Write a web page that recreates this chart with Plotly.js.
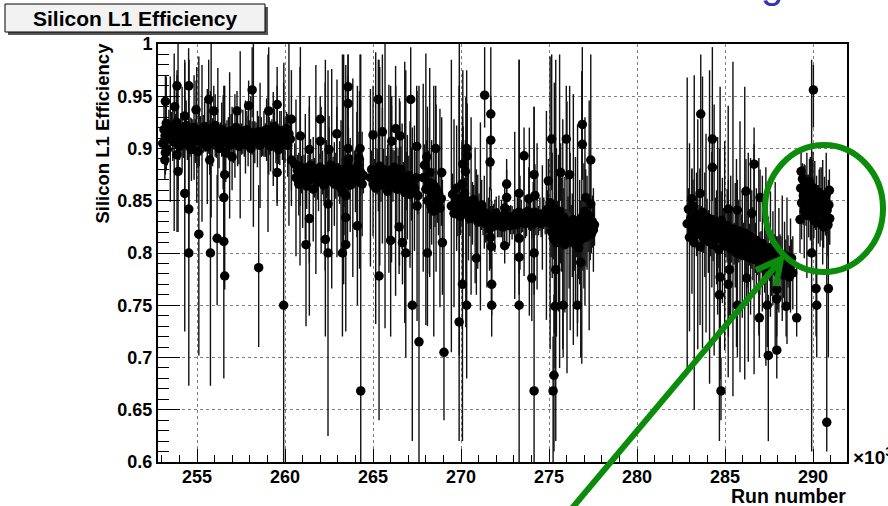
<!DOCTYPE html>
<html>
<head>
<meta charset="utf-8">
<script src="https://cdn.plot.ly/plotly-3.0.1.min.js"></script>
<style>
  html, body { margin: 0; padding: 0; background: #fff; }
  #plot { width: 888px; height: 506px; }
</style>
</head>
<body>
<div id="plot"></div>
<script>
// Run numbers are in units of 10^3.

// 253k - 260k runs
const p1Run = [253.05,253.12,253.18,253.25,253.31,253.40,253.48,253.55,253.62,253.70,
  253.78,253.85,253.92,254.00,254.08,254.15,254.22,254.30,254.38,254.45,
  254.52,254.60,254.68,254.76,254.83,254.90,254.98,255.05,255.12,255.20,
  255.28,255.35,255.43,255.50,255.58,255.65,255.73,255.80,255.88,255.95,
  256.03,256.10,256.18,256.25,256.33,256.40,256.48,256.55,256.63,256.70,
  256.78,256.85,256.93,257.00,257.08,257.15,257.23,257.30,257.38,257.45,
  257.53,257.60,257.68,257.75,257.83,257.90,257.98,258.05,258.13,258.20,
  258.28,258.35,258.43,258.50,258.58,258.65,258.73,258.80,258.88,258.95,
  259.03,259.10,259.18,259.25,259.33,259.40,259.48,259.55,259.63,259.70,
  259.78,259.85,259.93,260.00,260.08,260.15,260.22,260.30];
const p1Eff = [0.905,0.918,0.912,0.924,0.899,0.915,0.909,0.921,0.913,0.906,
  0.917,0.925,0.910,0.902,0.914,0.919,0.908,0.912,0.922,0.904,
  0.916,0.911,0.899,0.914,0.920,0.907,0.913,0.897,0.910,0.918,
  0.905,0.914,0.921,0.909,0.902,0.915,0.911,0.919,0.906,0.913,
  0.922,0.908,0.915,0.900,0.912,0.918,0.906,0.914,0.896,0.909,
  0.916,0.903,0.911,0.917,0.905,0.912,0.920,0.908,0.902,0.913,
  0.909,0.916,0.904,0.911,0.918,0.907,0.913,0.900,0.910,0.915,
  0.906,0.912,0.909,0.916,0.903,0.911,0.907,0.914,0.908,0.918,
  0.905,0.912,0.902,0.915,0.909,0.921,0.906,0.913,0.899,0.910,
  0.917,0.904,0.912,0.908,0.919,0.903,0.914,0.909];
const p1Err = [0.012,0.030,0.018,0.045,0.015,0.022,0.060,0.014,0.025,0.085,
  0.016,0.028,0.090,0.013,0.020,0.040,0.017,0.070,0.024,0.015,
  0.080,0.019,0.030,0.014,0.050,0.021,0.065,0.016,0.027,0.013,
  0.075,0.018,0.024,0.012,0.055,0.020,0.016,0.085,0.023,0.014,
  0.030,0.017,0.062,0.019,0.013,0.026,0.045,0.015,0.028,0.018,
  0.014,0.070,0.022,0.016,0.019,0.040,0.013,0.025,0.017,0.080,
  0.015,0.021,0.012,0.035,0.018,0.024,0.014,0.050,0.016,0.090,
  0.020,0.013,0.027,0.015,0.060,0.019,0.014,0.022,0.016,0.030,
  0.085,0.018,0.024,0.013,0.045,0.017,0.020,0.065,0.014,0.026,
  0.019,0.015,0.070,0.022,0.016,0.030,0.088,0.018];

// 260.5k - 264.5k runs
const p2Run = [260.55,260.62,260.70,260.78,260.85,260.93,261.00,261.08,261.15,261.23,
  261.30,261.38,261.45,261.53,261.60,261.68,261.75,261.83,261.90,261.98,
  262.05,262.13,262.20,262.28,262.35,262.43,262.50,262.58,262.65,262.73,
  262.80,262.88,262.95,263.03,263.10,263.18,263.25,263.33,263.40,263.48,
  263.55,263.63,263.70,263.78,263.85,263.93,264.00,264.08,264.15,264.23,
  264.30,264.38,264.45,263.60,264.20,263.35,263.45];
const p2Eff = [0.885,0.872,0.879,0.866,0.883,0.875,0.869,0.881,0.873,0.864,
  0.878,0.870,0.884,0.876,0.861,0.872,0.880,0.868,0.875,0.882,
  0.870,0.877,0.865,0.873,0.880,0.869,0.876,0.884,0.871,0.878,
  0.866,0.874,0.881,0.870,0.877,0.862,0.873,0.880,0.868,0.876,
  0.883,0.871,0.865,0.878,0.872,0.880,0.869,0.875,0.884,0.870,
  0.877,0.866,0.874,0.890,0.891,0.857,0.855];
const p2Err = [0.020,0.075,0.015,0.030,0.095,0.018,0.045,0.013,0.060,0.022,
  0.016,0.080,0.025,0.014,0.050,0.019,0.100,0.017,0.035,0.013,
  0.070,0.021,0.016,0.090,0.028,0.015,0.055,0.019,0.105,0.014,
  0.040,0.022,0.085,0.016,0.030,0.065,0.018,0.110,0.024,0.014,
  0.075,0.020,0.045,0.016,0.095,0.018,0.030,0.060,0.015,0.085,
  0.022,0.050,0.017,0.030,0.025,0.040,0.020];

// 264.8k - 273k runs
const p3Run = [264.85,264.92,265.00,265.08,265.15,265.23,265.30,265.38,265.45,265.53,
  265.60,265.68,265.75,265.83,265.90,265.98,266.05,266.13,266.20,266.28,
  266.35,266.43,266.50,266.58,266.65,266.73,266.80,266.88,266.95,267.03,
  267.10,267.18,
  267.35,267.45,267.50,267.55,267.85,267.92,268.00,268.05,268.10,268.15,
  268.22,268.28,268.33,268.40,268.45,268.52,268.58,268.65,268.72,268.80,
  268.88,
  269.45,269.52,269.60,269.68,269.75,269.82,269.90,269.97,270.05,270.12,
  270.20,270.27,270.35,270.42,270.50,270.57,270.65,270.72,270.80,270.87,
  270.95,271.02,271.10,271.17,271.25,271.32,271.40,271.47,271.55,271.62,
  271.68,271.72,271.78,271.85,271.92,272.00,272.07,272.15,272.22,272.30,
  272.37,272.45,272.52,272.60,272.68,272.75,272.82,272.90,270.10,270.25,
  270.35];
const p3Eff = [0.872,0.880,0.866,0.875,0.862,0.878,0.870,0.883,0.865,0.874,
  0.880,0.868,0.876,0.859,0.871,0.879,0.866,0.874,0.882,0.869,
  0.861,0.875,0.868,0.880,0.864,0.872,0.858,0.869,0.863,0.874,
  0.856,0.866,
  0.862,0.872,0.845,0.855,0.872,0.884,0.861,0.892,0.850,0.868,
  0.877,0.845,0.858,0.866,0.840,0.853,0.862,0.848,0.857,0.843,
  0.852,
  0.845,0.856,0.838,0.849,0.862,0.841,0.852,0.835,0.866,0.846,
  0.857,0.839,0.850,0.843,0.833,0.845,0.838,0.851,0.836,0.844,
  0.830,0.841,0.835,0.846,0.832,0.839,0.828,0.837,0.831,0.823,
  0.815,0.806,0.827,0.834,0.826,0.838,0.829,0.835,0.827,0.833,
  0.825,0.831,0.836,0.828,0.834,0.826,0.832,0.829,0.885,0.878,
  0.893];
const p3Err = [0.085,0.018,0.050,0.015,0.130,0.022,0.030,0.095,0.016,0.065,
  0.020,0.140,0.017,0.045,0.090,0.014,0.075,0.025,0.016,0.110,
  0.040,0.018,0.080,0.022,0.060,0.015,0.125,0.028,0.050,0.019,
  0.070,0.035,
  0.060,0.025,0.110,0.018,0.090,0.020,0.130,0.016,0.070,0.030,
  0.100,0.022,0.050,0.015,0.120,0.028,0.080,0.019,0.040,0.095,
  0.026,
  0.140,0.020,0.090,0.016,0.060,0.025,0.150,0.018,0.040,0.075,
  0.015,0.110,0.022,0.050,0.017,0.085,0.030,0.014,0.065,0.020,
  0.045,0.016,0.090,0.024,0.015,0.035,0.018,0.070,0.022,0.040,
  0.030,0.055,0.018,0.013,0.025,0.016,0.014,0.020,0.012,0.018,
  0.015,0.022,0.013,0.017,0.012,0.019,0.014,0.016,0.090,0.030,
  0.050];

// 273k - 277.6k runs
const p4Run = [272.98,273.05,273.12,273.20,273.28,273.35,273.42,273.50,273.58,273.65,
  273.72,273.80,273.88,273.95,274.02,274.10,274.18,274.25,274.32,274.40,
  274.48,274.55,274.62,274.70,274.78,274.85,274.92,275.00,275.06,275.12,
  275.18,275.24,275.30,275.36,275.42,275.48,275.54,275.60,275.66,275.72,
  275.78,275.84,275.90,275.96,276.02,276.08,276.14,276.20,276.26,276.32,
  276.38,276.44,276.50,276.56,276.62,276.68,276.74,276.80,276.86,276.92,
  276.98,277.04,277.10,277.16,277.22,277.28,277.34,277.40,277.46,277.52,
  277.58,273.85,274.20];
const p4Eff = [0.830,0.836,0.827,0.833,0.839,0.829,0.835,0.831,0.838,0.828,
  0.834,0.840,0.830,0.836,0.827,0.833,0.839,0.829,0.835,0.831,
  0.837,0.828,0.834,0.838,0.830,0.836,0.842,0.829,0.848,0.821,
  0.836,0.814,0.843,0.826,0.810,0.832,0.819,0.840,0.812,0.827,
  0.818,0.834,0.808,0.823,0.815,0.830,0.821,0.811,0.826,0.817,
  0.832,0.809,0.822,0.814,0.828,0.805,0.820,0.812,0.834,0.818,
  0.826,0.840,0.815,0.829,0.821,0.836,0.825,0.818,0.830,0.822,
  0.827,0.852,0.855];
const p4Err = [0.012,0.080,0.015,0.020,0.013,0.045,0.016,0.011,0.060,0.014,
  0.018,0.012,0.090,0.015,0.013,0.035,0.017,0.012,0.070,0.014,
  0.016,0.013,0.050,0.015,0.012,0.100,0.018,0.013,0.140,0.025,
  0.060,0.020,0.120,0.030,0.090,0.018,0.075,0.150,0.022,0.045,
  0.110,0.028,0.065,0.019,0.130,0.024,0.055,0.085,0.020,0.040,
  0.120,0.026,0.070,0.018,0.095,0.030,0.050,0.022,0.140,0.035,
  0.060,0.090,0.028,0.045,0.020,0.110,0.032,0.018,0.025,0.040,
  0.020,0.030,0.030];

// 282.8k - 288.9k runs
const p5Run = [282.85,282.92,282.98,283.05,283.12,283.18,283.25,283.32,283.38,283.45,
  283.52,283.58,283.65,283.72,283.78,283.85,283.92,283.98,284.05,284.12,
  284.18,284.25,284.32,284.38,284.45,284.52,284.58,284.65,284.72,284.78,
  284.85,284.92,284.98,285.05,285.12,285.18,285.25,285.32,285.38,285.45,
  285.52,285.58,285.65,285.72,285.78,285.85,285.92,285.98,286.05,286.12,
  286.18,286.25,286.32,286.38,286.45,286.52,286.58,286.65,286.72,286.78,
  286.85,286.92,286.98,287.05,287.12,287.18,287.25,287.32,287.38,287.45,
  287.52,287.58,287.65,287.72,287.78,287.85,287.92,288.00,288.06,288.12,
  288.18,288.25,288.32,288.38,288.45,288.52,288.58,288.65,288.72,288.78,
  288.85];
const p5Eff = [0.828,0.842,0.815,0.833,0.821,0.845,0.810,0.826,0.837,0.818,
  0.830,0.806,0.823,0.839,0.814,0.827,0.819,0.834,0.811,0.825,
  0.817,0.832,0.808,0.822,0.829,0.815,0.826,0.803,0.819,0.831,
  0.812,0.824,0.807,0.818,0.826,0.811,0.820,0.804,0.816,0.823,
  0.809,0.817,0.800,0.813,0.821,0.806,0.815,0.798,0.811,0.819,
  0.803,0.812,0.796,0.808,0.816,0.801,0.809,0.794,0.805,0.812,
  0.797,0.806,0.790,0.801,0.809,0.794,0.802,0.787,0.798,0.805,
  0.791,0.799,0.784,0.795,0.802,0.788,0.796,0.781,0.793,0.800,
  0.786,0.795,0.779,0.790,0.797,0.783,0.792,0.777,0.788,0.795,
  0.781];
const p5Err = [0.140,0.020,0.090,0.015,0.060,0.025,0.160,0.018,0.040,0.110,
  0.016,0.075,0.022,0.130,0.014,0.050,0.095,0.018,0.030,0.150,
  0.020,0.065,0.016,0.120,0.024,0.045,0.085,0.017,0.140,0.028,
  0.060,0.019,0.100,0.022,0.035,0.130,0.018,0.070,0.025,0.160,
  0.020,0.050,0.090,0.016,0.030,0.120,0.022,0.060,0.018,0.140,
  0.028,0.045,0.100,0.020,0.075,0.016,0.035,0.110,0.024,0.050,
  0.018,0.085,0.030,0.020,0.065,0.016,0.040,0.095,0.022,0.030,
  0.018,0.060,0.025,0.045,0.016,0.080,0.020,0.035,0.050,0.018,
  0.030,0.060,0.022,0.040,0.016,0.070,0.025,0.030,0.045,0.018,
  0.035];

// 289.3k - 291k runs
const p6Run = [289.30,289.35,289.40,289.45,289.50,289.55,289.60,289.65,289.70,289.75,
  289.80,289.85,289.90,289.95,290.00,290.05,290.10,290.15,290.20,290.25,
  290.30,290.35,290.40,290.45,290.50,290.55,290.60,290.65,290.70,290.75,
  290.80,290.85,290.90,290.95];
const p6Eff = [0.862,0.848,0.871,0.855,0.840,0.866,0.851,0.836,0.859,0.845,
  0.868,0.852,0.838,0.863,0.847,0.832,0.856,0.842,0.829,0.850,
  0.837,0.858,0.844,0.828,0.852,0.839,0.825,0.848,0.835,0.856,
  0.841,0.827,0.846,0.833];
const p6Err = [0.020,0.035,0.015,0.028,0.045,0.018,0.025,0.060,0.016,0.030,
  0.022,0.040,0.015,0.026,0.050,0.018,0.032,0.020,0.045,0.015,
  0.028,0.022,0.038,0.016,0.030,0.050,0.020,0.025,0.018,0.040,
  0.022,0.030,0.016,0.025];

// Isolated runs, with lower and upper ends of the efficiency interval
const oddRun = [253.20,253.86,254.53,255.66,255.95,254.94,253.73,254.30,257.27,258.13,
  257.93,259.07,259.55,260.36,253.20,253.17,253.86,253.92,254.30,254.53,
  254.53,255.10,255.76,256.14,256.52,256.57,256.52,256.57,255.72,256.99,
  258.50,259.92,259.55,260.36,260.87,261.38,261.19,261.38,262.29,262.44,
  262.44,262.50,262.00,262.00,
  263.58,263.58,262.94,263.58,264.26,264.30,263.45,263.26,264.11,263.45,
  265.30,265.00,265.53,266.29,266.06,266.53,265.34,266.00,266.48,266.86,
  266.67,267.14,267.48,267.23,267.61,268.56,268.09,268.94,269.03,268.90,
  270.32,270.08,269.89,270.32,270.87,271.34,271.69,271.69,271.65,271.74,
  271.74,272.59,272.59,272.48,272.48,
  273.58,274.15,273.30,273.30,273.30,273.30,274.15,274.02,274.15,275.15,
  275.98,274.96,275.66,276.17,275.38,275.28,275.23,275.34,275.80,276.61,
  276.89,276.89,277.37,277.08,277.37,276.80,
  283.62,284.28,284.28,283.58,283.11,286.65,286.19,285.19,285.70,286.52,
  286.99,284.72,284.68,285.25,285.19,284.77,285.70,286.95,287.46,287.94,
  287.40,287.94,288.47,289.07,287.94,286.23,
  290.02,289.32,290.93,289.92,290.17,290.87,290.21,290.78,289.26];
const oddEff = [0.945,0.960,0.960,0.947,0.936,0.937,0.940,0.931,0.936,0.956,
  0.941,0.936,0.942,0.928,0.896,0.889,0.894,0.878,0.857,0.842,
  0.800,0.818,0.800,0.814,0.811,0.875,0.853,0.778,0.889,0.892,
  0.786,0.750,0.877,0.889,0.912,0.899,0.808,0.833,0.813,0.800,
  0.847,0.899,0.907,0.928,
  0.959,0.943,0.914,0.900,0.900,0.668,0.808,0.800,0.826,0.834,
  0.947,0.913,0.916,0.919,0.907,0.912,0.778,0.812,0.825,0.800,
  0.810,0.947,0.902,0.750,0.715,0.900,0.800,0.810,0.705,0.877,
  0.900,0.770,0.734,0.750,0.795,0.951,0.933,0.908,0.887,0.770,
  0.750,0.866,0.853,0.843,0.807,
  0.893,0.875,0.857,0.814,0.796,0.750,0.800,0.776,0.668,0.909,
  0.909,0.869,0.877,0.875,0.784,0.683,0.668,0.749,0.750,0.750,
  0.923,0.904,0.889,0.853,0.847,0.791,
  0.933,0.909,0.882,0.857,0.852,0.885,0.859,0.842,0.841,0.838,
  0.853,0.777,0.760,0.784,0.770,0.668,0.750,0.738,0.702,0.707,
  0.750,0.756,0.749,0.738,0.765,0.776,
  0.956,0.878,0.860,0.800,0.766,0.766,0.750,0.638,0.832];
const oddLo = [0.920,0.925,0.930,0.910,0.900,0.905,0.915,0.905,0.910,0.930,
  0.910,0.875,0.890,0.845,0.875,0.870,0.820,0.860,0.725,0.800,
  0.673,0.702,0.673,0.750,0.680,0.850,0.810,0.765,0.875,0.860,
  0.710,0.600,0.845,0.860,0.845,0.870,0.730,0.740,0.720,0.625,
  0.820,0.880,0.890,0.905,
  0.930,0.900,0.860,0.860,0.870,0.600,0.725,0.720,0.750,0.810,
  0.900,0.880,0.880,0.890,0.870,0.880,0.640,0.720,0.780,0.700,
  0.770,0.860,0.860,0.620,0.600,0.840,0.730,0.760,0.640,0.850,
  0.870,0.620,0.620,0.680,0.760,0.920,0.880,0.860,0.860,0.740,
  0.720,0.840,0.830,0.820,0.790,
  0.860,0.850,0.820,0.780,0.760,0.600,0.760,0.735,0.600,0.860,
  0.870,0.840,0.850,0.840,0.620,0.610,0.600,0.690,0.700,0.720,
  0.880,0.870,0.840,0.830,0.820,0.700,
  0.860,0.850,0.850,0.830,0.820,0.820,0.830,0.820,0.810,0.820,
  0.830,0.700,0.620,0.740,0.720,0.640,0.700,0.700,0.620,0.680,
  0.710,0.720,0.720,0.720,0.740,0.750,
  0.920,0.860,0.830,0.610,0.720,0.700,0.700,0.610,0.800];
const oddHi = [0.970,0.975,0.985,0.985,0.960,0.965,0.960,0.955,0.955,0.997,
  0.965,0.997,0.960,0.975,0.920,0.905,0.970,0.900,0.985,0.920,
  0.985,0.988,0.955,0.875,0.960,0.960,0.900,0.850,0.920,0.940,
  0.865,0.963,0.920,0.930,0.997,0.940,0.835,0.870,0.985,0.975,
  0.880,0.920,0.930,0.950,
  0.990,0.970,0.940,0.990,0.990,0.990,0.980,0.990,0.960,0.870,
  0.985,0.960,0.990,0.960,0.950,0.945,0.985,0.960,0.900,0.975,
  0.880,0.997,0.960,0.920,0.960,0.960,0.940,0.870,0.850,0.930,
  0.930,0.930,0.960,0.975,0.880,0.997,0.997,0.950,0.910,0.850,
  0.800,0.890,0.880,0.870,0.830,
  0.920,0.940,0.985,0.840,0.830,0.985,0.880,0.840,0.940,0.990,
  0.960,0.890,0.905,0.960,0.985,0.760,0.720,0.800,0.830,0.780,
  0.997,0.935,0.990,0.880,0.890,0.850,
  0.990,0.997,0.910,0.880,0.880,0.920,0.890,0.870,0.870,0.860,
  0.880,0.830,0.900,0.830,0.810,0.700,0.800,0.770,0.760,0.740,
  0.790,0.800,0.780,0.790,0.800,0.810,
  0.980,0.900,0.880,0.985,0.800,0.870,0.780,0.820,0.860];

// Axis ticks
const xTickVals = [255, 260, 265, 270, 275, 280, 285, 290];
const xTickText = ['255', '260', '265', '270', '275', '280', '285', '290'];
const yTickVals = [0.6, 0.65, 0.7, 0.75, 0.8, 0.85, 0.9, 0.95, 1.0];
const yTickText = ['0.6', '0.65', '0.7', '0.75', '0.8', '0.85', '0.9', '0.95', '1'];

// ---- assemble one graph: symmetric errors for the run blocks, explicit ends for isolated runs
const x = [], y = [], up = [], dn = [];
[[p1Run, p1Eff, p1Err], [p2Run, p2Eff, p2Err], [p3Run, p3Eff, p3Err],
 [p4Run, p4Eff, p4Err], [p5Run, p5Eff, p5Err], [p6Run, p6Eff, p6Err]].forEach(([r, e, s]) => {
  const n = Math.min(r.length, e.length, s.length);
  for (let i = 0; i < n; i++) { x.push(r[i]); y.push(e[i]); up.push(s[i]); dn.push(s[i]); }
});
for (let i = 0; i < oddRun.length; i++) {
  x.push(oddRun[i]); y.push(oddEff[i]);
  up.push(Math.max(0, oddHi[i] - oddEff[i]));
  dn.push(Math.max(0, oddEff[i] - oddLo[i]));
}

const W = 888, H = 506;
const M = { l: 158, r: 41, t: 44, b: 44 };
const fx = px => (px - M.l) / (W - M.l - M.r);
const fy = py => (H - M.b - py) / (H - M.t - M.b);

const FONT = 'Liberation Sans, Arial, Helvetica, sans-serif';
const GREEN = '#0b8c0b';

const trace = {
  type: 'scatter', mode: 'markers', x: x, y: y,
  marker: { color: '#000', size: 9.5, line: { width: 0 } },
  error_y: { type: 'data', symmetric: false, array: up, arrayminus: dn,
             color: '#111', thickness: 1.4, width: 0 },
  hoverinfo: 'x+y'
};

const axisCommon = {
  showline: true, linecolor: '#000', linewidth: 2, mirror: true,
  ticks: 'inside', tickcolor: '#000', tickwidth: 1,
  showgrid: true, gridcolor: '#808080', griddash: 'dot', gridwidth: 1,
  zeroline: false,
  tickfont: { family: FONT, size: 18, color: '#000', weight: 700 }
};

const layout = {
  width: W, height: H,
  margin: M,
  paper_bgcolor: '#fff', plot_bgcolor: '#fff',
  showlegend: false,
  xaxis: Object.assign({}, axisCommon, {
    range: [252.78, 291.93], tickmode: 'array', tickvals: xTickVals, ticktext: xTickText,
    ticklen: 13, ticklabelstandoff: -3,
    minor: { ticks: 'inside', dtick: 1, tick0: 250, ticklen: 7, tickcolor: '#000', tickwidth: 1, showgrid: false }
  }),
  yaxis: Object.assign({}, axisCommon, {
    range: [0.6, 1.0], tickmode: 'array', tickvals: yTickVals, ticktext: yTickText,
    ticklen: 22,
    minor: { ticks: 'inside', dtick: 0.01, tick0: 0.6, ticklen: 11, tickcolor: '#000', tickwidth: 1, showgrid: false }
  }),
  shapes: [
    // title box with drop shadow
    { type: 'rect', xref: 'paper', yref: 'paper', layer: 'above',
      x0: fx(8), x1: fx(268), y0: fy(35), y1: fy(7),
      fillcolor: '#555', line: { width: 0 } },
    { type: 'rect', xref: 'paper', yref: 'paper', layer: 'above',
      x0: fx(5), x1: fx(265), y0: fy(32), y1: fy(4),
      fillcolor: '#f2f2f2', line: { color: '#000', width: 1 } },
    // highlight ring
    { type: 'circle', xref: 'paper', yref: 'paper', layer: 'above',
      x0: fx(765), x1: fx(883), y0: fy(272), y1: fy(145),
      line: { color: GREEN, width: 6 } },
    // pointer arrow
    { type: 'path', xref: 'paper', yref: 'paper', layer: 'above',
      path: `M ${fx(552)},${fy(532)} L ${fx(779)},${fy(262)}`,
      line: { color: GREEN, width: 6 } },
    { type: 'path', xref: 'paper', yref: 'paper', layer: 'above',
      path: `M ${fx(756)},${fy(270)} L ${fx(781)},${fy(259)} L ${fx(776)},${fy(286)}`,
      line: { color: GREEN, width: 6 } }
  ],
  annotations: [
    { xref: 'paper', yref: 'paper', x: fx(135), y: fy(18.5), xanchor: 'center', yanchor: 'middle',
      text: 'Silicon L1 Efficiency', showarrow: false,
      font: { family: FONT, size: 21, color: '#000', weight: 700 } },
    { xref: 'paper', yref: 'paper', x: fx(102), y: fy(41), xanchor: 'center', yanchor: 'top',
      text: 'Silicon L1 Efficiency', textangle: -90, showarrow: false,
      font: { family: FONT, size: 18.5, color: '#000', weight: 700 } },
    { xref: 'paper', yref: 'paper', x: fx(848), y: fy(496), xanchor: 'right', yanchor: 'middle',
      text: 'Run number', showarrow: false,
      font: { family: FONT, size: 19.5, color: '#000', weight: 700 } },
    { xref: 'paper', yref: 'paper', x: fx(851), y: fy(456), xanchor: 'left', yanchor: 'middle',
      text: '×10<sup>3</sup>', showarrow: false,
      font: { family: FONT, size: 19, color: '#000', weight: 700 } },
    { xref: 'paper', yref: 'paper', x: fx(772), y: fy(8), xanchor: 'center', yanchor: 'bottom',
      text: 'g', showarrow: false,
      font: { family: FONT, size: 40, color: '#3a2db8' } }
  ]
};

Plotly.newPlot('plot', [trace], layout, { staticPlot: true, displayModeBar: false });
</script>
</body>
</html>
